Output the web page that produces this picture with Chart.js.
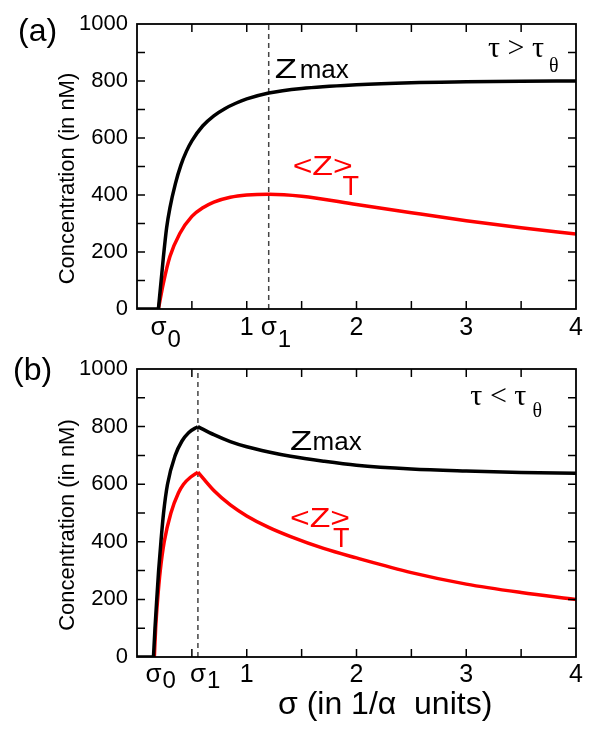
<!DOCTYPE html>
<html><head><meta charset="utf-8">
<script src="https://cdn.jsdelivr.net/npm/chart.js@4"></script>
<style>
html,body{margin:0;padding:0;background:#fff;}
#wrap{position:relative;width:600px;height:735px;overflow:hidden;}
.pane{position:absolute;left:0;width:600px;}
canvas{background:transparent;}
</style></head><body>
<div id="wrap">
<div class="pane" style="top:0;height:352px"><canvas id="ca" width="600" height="352"></canvas></div>
<div class="pane" style="top:345px;height:390px"><canvas id="cb" width="600" height="390"></canvas></div>
</div>
<script>
// ---------- DATA ----------
// Panel (a): tau > tau_theta
const sigma0A = 0.195, sigma1A = 1.2;
const sigmaZmaxA = [0.195, 0.22, 0.24, 0.27, 0.3, 0.35, 0.4, 0.45, 0.5, 0.6, 0.7, 0.8, 0.9, 1.0, 1.2, 1.5, 2, 2.5, 3, 3.5, 4];
const zmaxA      = [0, 100, 180, 285, 355, 440, 505, 553, 590, 643, 678, 703, 722, 737, 758, 774, 787, 794, 797, 799, 800];
const sigmaZavgA = [0.195, 0.24, 0.3, 0.39, 0.5, 0.6, 0.7, 0.85, 1.0, 1.2, 1.5, 2, 2.5, 3, 3.5, 4];
const zavgA      = [0, 90, 184, 265, 325, 355, 375, 392, 400, 403, 396, 367, 338, 310, 285, 263];

// Panel (b): tau < tau_theta
const sigma0B = 0.15, sigma1B = 0.555;
const sigmaZmaxRiseB = [0.15, 0.164, 0.18, 0.197, 0.218, 0.242, 0.278, 0.348, 0.41, 0.47, 0.555];
const zmaxRiseB      = [0, 100, 200, 300, 400, 500, 600, 700, 750, 779, 800];
const sigmaZmaxFallB = [0.555, 0.7, 0.85, 1.0, 1.2, 1.4, 1.7, 2.0, 2.5, 3.0, 3.5, 4];
const zmaxFallB      = [800, 772, 748, 730, 712, 697, 680, 666, 653, 646, 641, 638];
const sigmaZavgRiseB = [0.158, 0.17, 0.188, 0.212, 0.248, 0.309, 0.378, 0.424, 0.49, 0.555];
const zavgRiseB      = [0, 100, 200, 300, 400, 500, 570, 600, 625, 642];
const sigmaZavgFallB = [0.555, 0.7, 0.85, 1.0, 1.2, 1.4, 1.7, 2.0, 2.5, 3.0, 3.5, 4];
const zavgFallB      = [642, 578, 528, 490, 450, 418, 377, 344, 293, 253, 224, 200];

// Axes / tick labels
const xRange = [0, 4];
const yRange = [0, 1000];
const yTickStep = 200;
const xMinorStep = 0.5, yMinorStep = 100;
const xTickValuesA = [sigma0A, 1, sigma1A, 2, 3, 4];
const xTickLabelsA = ['σ0', '1', 'σ1', '2', '3', '4'];
const xTickValuesB = [sigma0B, sigma1B, 1, 2, 3, 4];
const xTickLabelsB = ['σ0', 'σ1', '1', '2', '3', '4'];
const yAxisTitle = 'Concentration (in nM)';
const xAxisTitle = 'σ (in 1/α  units)';

// ---------- helpers ----------
const SANS = '"Liberation Sans", Arial, sans-serif';
const SERIF = '"Liberation Serif", "Times New Roman", serif';
const RED = '#ff0000';
const pts = (xs, ys) => xs.map((x, i) => ({x, y: ys[i]}));
const curve = (data, color) => ({data, borderColor: color, borderWidth: 3.5, pointRadius: 0,
  cubicInterpolationMode: 'monotone', fill: false});
const dashed = (s) => ({data: [{x: s, y: yRange[0]}, {x: s, y: yRange[1]}], borderColor: '#444',
  borderWidth: 1.5, borderDash: [5, 4], pointRadius: 0, fill: false});

const decor = {
  id: 'decor',
  afterDraw(chart, args, o) {
    const {ctx, chartArea: ca, scales: {x, y}} = chart;
    ctx.save();
    ctx.strokeStyle = '#000';
    // inward ticks
    ctx.lineWidth = 1.5;
    ctx.beginPath();
    for (let v = xRange[0] + xMinorStep; v < xRange[1] - 1e-9; v += xMinorStep) {
      const px = x.getPixelForValue(v);
      ctx.moveTo(px, ca.bottom); ctx.lineTo(px, ca.bottom - 8);
      ctx.moveTo(px, ca.top); ctx.lineTo(px, ca.top + 8);
    }
    for (let v = yRange[0] + yMinorStep; v < yRange[1] - 1e-9; v += yMinorStep) {
      const py = y.getPixelForValue(v);
      ctx.moveTo(ca.left, py); ctx.lineTo(ca.left + 8, py);
      ctx.moveTo(ca.right, py); ctx.lineTo(ca.right - 8, py);
    }
    ctx.stroke();
    // frame
    ctx.lineWidth = 1.8;
    ctx.strokeRect(ca.left, ca.top, ca.right - ca.left, ca.bottom - ca.top);

    // x tick labels with subscripts
    ctx.fillStyle = '#000';
    ctx.textBaseline = 'alphabetic';
    const base = ca.bottom + o.tickBase;
    o.tickValues.forEach((v, i) => {
      const lab = o.tickLabels[i];
      const px = x.getPixelForValue(v);
      if (lab.startsWith('σ')) {
        ctx.font = '26px ' + SANS;
        const w = ctx.measureText('σ').width;
        ctx.textAlign = 'center';
        ctx.fillText('σ', px, base);
        ctx.font = '24px ' + SANS;
        ctx.textAlign = 'left';
        ctx.fillText(lab.slice(1), px + w / 2 + 1, base + o.subOff);
      } else {
        ctx.font = '25px ' + SANS;
        ctx.textAlign = 'center';
        ctx.fillText(lab, px, base);
      }
    });

    // in-plot labels (positioned in data space)
    o.labels.forEach(l => {
      ctx.save();
      ctx.font = l.font;
      ctx.fillStyle = l.color || '#000';
      ctx.textAlign = l.align || 'left';
      ctx.translate(x.getPixelForValue(l.x), y.getPixelForValue(l.y));
      ctx.scale(l.sx || 1, 1);
      ctx.fillText(l.t, 0, 0);
      ctx.restore();
    });

    // y axis title
    ctx.fillStyle = '#000';
    ctx.save();
    ctx.translate(68, (ca.top + ca.bottom) / 2 + 12);
    ctx.rotate(-Math.PI / 2);
    ctx.font = '22px ' + SANS;
    ctx.textAlign = 'center';
    ctx.textBaseline = 'middle';
    ctx.fillText(yAxisTitle, 0, 0);
    ctx.restore();

    // x axis title
    if (o.xTitle) {
      ctx.font = '32px ' + SANS;
      ctx.textAlign = 'left';
      ctx.textBaseline = 'alphabetic';
      ctx.fillText(o.xTitle, 278, ca.bottom + 57);
    }
    // panel letter
    ctx.font = '32px ' + SANS;
    ctx.textAlign = 'left';
    ctx.textBaseline = 'alphabetic';
    ctx.fillText(o.panel[0], o.panel[1], o.panel[2]);
    ctx.restore();
  }
};

function makePanel(id, datasets, topPad, xHeight, decorOpts) {
  return new Chart(document.getElementById(id), {
    type: 'line',
    data: {datasets},
    options: {
      responsive: false, animation: false, devicePixelRatio: 1,
      layout: {padding: {top: topPad, right: 24, left: 0, bottom: 0}},
      plugins: {legend: {display: false}, tooltip: {enabled: false}, decor: decorOpts},
      scales: {
        x: {type: 'linear', min: xRange[0], max: xRange[1],
            ticks: {display: false}, grid: {display: false, drawTicks: false}, border: {display: false},
            afterFit(s) { s.height = xHeight; }},
        y: {type: 'linear', min: yRange[0], max: yRange[1],
            ticks: {stepSize: yTickStep, color: '#000', padding: 9, font: {family: SANS, size: 22},
                    callback: v => String(v)},
            grid: {display: false, drawTicks: false}, border: {display: false},
            afterFit(s) { s.width = 137; }}
      }
    },
    plugins: [decor]
  });
}

makePanel('ca', [
  curve(pts(sigmaZmaxA, zmaxA), '#000'),
  curve([{x: 0, y: 0}, {x: sigma0A, y: 0}], '#000'),
  curve(pts(sigmaZavgA, zavgA), RED),
  dashed(sigma1A)
], 24, 43, {
  tickValues: xTickValuesA, tickLabels: xTickLabelsA, tickBase: 26, subOff: 12,
  panel: ['(a)', 18, 41],
  labels: [
    {t: 'Z', x: 1.255, y: 810, font: '27px ' + SANS, sx: 1.35},
    {t: 'max', x: 1.482, y: 810, font: '26px ' + SANS},
    {t: '<Z>', x: 1.418, y: 470, font: '27px ' + SANS, color: RED, sx: 1.25},
    {t: 'T', x: 1.873, y: 400, font: '27px ' + SANS, color: RED},
    {t: 'τ > τ', x: 3.709, y: 884, font: '30px ' + SERIF, align: 'right'},
    {t: 'θ', x: 3.755, y: 832, font: '20px ' + SERIF}
  ]
});

makePanel('cb', [
  curve(pts(sigmaZmaxRiseB, zmaxRiseB), '#000'),
  curve(pts(sigmaZmaxFallB, zmaxFallB), '#000'),
  curve([{x: 0, y: 0}, {x: sigma0B, y: 0}], '#000'),
  curve(pts(sigmaZavgRiseB, zavgRiseB), RED),
  curve(pts(sigmaZavgFallB, zavgFallB), RED),
  dashed(sigma1B)
], 24, 78, {
  tickValues: xTickValuesB, tickLabels: xTickLabelsB, tickBase: 25, subOff: 6,
  panel: ['(b)', 13, 35], xTitle: xAxisTitle,
  labels: [
    {t: 'Z', x: 1.394, y: 720, font: '27px ' + SANS, sx: 1.35},
    {t: 'max', x: 1.60, y: 720, font: '26px ' + SANS},
    {t: '<Z>', x: 1.394, y: 452, font: '27px ' + SANS, color: RED, sx: 1.25},
    {t: 'T', x: 1.785, y: 382, font: '27px ' + SANS, color: RED},
    {t: 'τ < τ', x: 3.548, y: 876, font: '30px ' + SERIF, align: 'right'},
    {t: 'θ', x: 3.603, y: 835, font: '20px ' + SERIF}
  ]
});
</script>
</body></html>
